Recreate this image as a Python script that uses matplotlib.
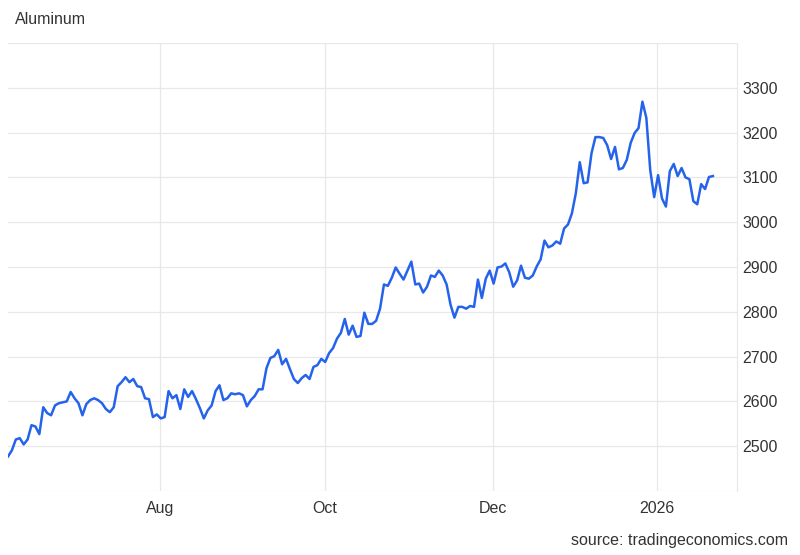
import numpy as np
import matplotlib
matplotlib.use("Agg")
import matplotlib.pyplot as plt

plt.rcParams['font.family'] = ['Liberation Sans', 'DejaVu Sans']

# aluminum price, one value per trading session
prices = [
    2477, 2491, 2515, 2518, 2504, 2515, 2547, 2544, 2527, 2587,
    2574, 2569, 2591, 2596, 2598, 2600, 2621, 2607, 2596, 2569,
    2594, 2603, 2607, 2603, 2596, 2583, 2576, 2587, 2634, 2643,
    2654, 2643, 2650, 2634, 2632, 2607, 2605, 2565, 2571, 2562,
    2565, 2623, 2607, 2614, 2583, 2627, 2610, 2623, 2605, 2585,
    2562, 2580, 2591, 2623, 2636, 2603, 2607, 2618, 2616, 2618,
    2614, 2589, 2603, 2612, 2627, 2627, 2674, 2697, 2701, 2715,
    2683, 2695, 2672, 2650, 2641,
    2652, 2659, 2650, 2677, 2681, 2695, 2688, 2708, 2719, 2740,
    2753, 2784, 2749, 2769, 2744, 2746, 2798, 2773, 2773, 2780,
    2807, 2861, 2858, 2876, 2899, 2885, 2872, 2892, 2912, 2861,
    2863, 2843, 2856, 2881, 2878, 2892, 2881, 2861, 2816, 2787,
    2811, 2811, 2807, 2813, 2811, 2872, 2831, 2874, 2892, 2863,
    2899, 2901, 2908, 2888, 2856, 2870, 2903, 2876, 2874, 2881,
    2901, 2917, 2959, 2944, 2948, 2957, 2952, 2986, 2995, 3020,
    3065,
    3134, 3087, 3089, 3154, 3190, 3190, 3188, 3172, 3141, 3168,
    3118, 3121, 3139, 3177, 3199, 3210, 3269, 3233, 3116, 3056,
    3105, 3053, 3035, 3114, 3130, 3103, 3121, 3100, 3096, 3047,
    3040, 3085, 3074, 3101, 3103,
]

x_tick_labels = ["Aug", "Oct", "Dec", "2026"]
x_tick_pos = [38.8, 80.9, 123.8, 165.7]
y_ticks = [2400, 2500, 2600, 2700, 2800, 2900, 3000, 3100, 3200, 3300, 3400]

fig = plt.figure(figsize=(8, 5.55), dpi=100)
ax = fig.add_axes([0.01, 0.1153, 0.911, 0.8072])

x = np.arange(len(prices))
ax.plot(x, prices, color="#2563EB", linewidth=1.8, solid_joinstyle="round")

ax.set_xlim(0, 186.1)
ax.set_ylim(2400, 3400)

ax.set_yticks(y_ticks)
ax.set_yticklabels(["" if v in (2400, 3400) else str(v) for v in y_ticks])
ax.yaxis.tick_right()
ax.set_xticks(x_tick_pos)
ax.set_xticklabels(x_tick_labels)

ax.tick_params(axis="both", length=0, labelsize=11.5, labelcolor="#333333")
ax.tick_params(axis="y", pad=4)
ax.tick_params(axis="x", pad=7)

ax.grid(True, color="#e8e8e8", linewidth=0.9)
ax.set_axisbelow(True)
for side in ["top", "left", "bottom"]:
    ax.spines[side].set_visible(False)
ax.spines["right"].set_color("#e8e8e8")
ax.spines["right"].set_linewidth(0.9)

fig.text(15 / 800, 1 - 20 / 555, "Aluminum", fontsize=11.5, color="#333333",
         ha="left", va="center")
fig.text(788 / 800, 1 - 541 / 555, "source: tradingeconomics.com", fontsize=11.5,
         color="#333333", ha="right", va="center")

fig.savefig("out.png", dpi=100)
